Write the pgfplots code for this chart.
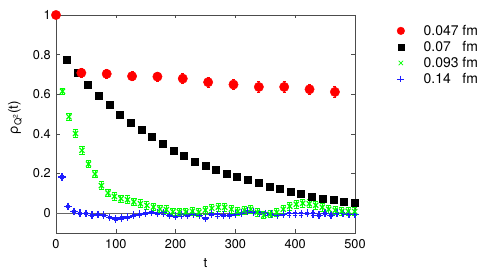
\documentclass[border=0pt]{standalone}
\usepackage{fontspec}
\setmainfont{TeX Gyre Heros}
\usepackage{pgfplots}
\pgfplotsset{compat=1.18}
\usepackage{pgfplotstable}

\pgfplotstableread{
t v e
0 1.0 0.0
42.4 0.708 0.022
84.8 0.703 0.022
127.2 0.691 0.022
169.6 0.689 0.022
212.0 0.679 0.024
254.4 0.661 0.024
296.8 0.649 0.026
339.2 0.637 0.026
381.6 0.637 0.026
424.0 0.625 0.027
466.4 0.612 0.028
}\redtab

\pgfplotstableread{
t v
17.8 0.772
35.6 0.708
53.5 0.647
71.3 0.593
89.1 0.545
107.0 0.497
124.8 0.459
142.6 0.422
160.4 0.385
178.3 0.349
196.1 0.317
214.0 0.290
231.8 0.262
249.6 0.240
267.4 0.218
285.2 0.201
303.0 0.184
321.0 0.168
338.8 0.152
356.6 0.135
374.4 0.124
392.2 0.109
410.0 0.097
428.0 0.085
445.8 0.075
463.6 0.067
481.4 0.058
499.2 0.051
}\blacktab

\pgfplotstableread{
t v e
10.9 0.615 0.014
21.7 0.486 0.018
32.6 0.402 0.019
43.4 0.317 0.019
54.3 0.248 0.019
65.2 0.198 0.019
76.0 0.139 0.019
86.9 0.102 0.019
97.7 0.085 0.019
108.6 0.073 0.019
119.5 0.068 0.019
130.3 0.057 0.019
141.2 0.048 0.019
152.0 0.039 0.019
162.9 0.031 0.019
173.8 0.021 0.019
184.6 0.018 0.019
195.5 0.007 0.019
206.3 0.007 0.019
217.2 0.007 0.019
228.0 0.010 0.019
238.9 0.005 0.019
249.8 0.015 0.019
260.6 0.025 0.019
271.5 0.030 0.019
282.3 0.030 0.019
293.2 0.020 0.019
304.0 0.010 0.019
314.9 0.015 0.019
325.8 0.020 0.019
336.6 0.005 0.019
347.5 -0.010 0.019
358.3 -0.005 0.019
369.2 0.005 0.019
380.0 0.020 0.019
390.9 0.035 0.019
401.8 0.045 0.019
412.6 0.050 0.019
423.5 0.048 0.019
434.3 0.040 0.019
445.2 0.030 0.019
456.0 0.020 0.019
466.9 0.015 0.019
477.8 0.010 0.019
488.6 0.010 0.019
499.5 0.008 0.019
}\greentab

\pgfplotstableread{
t v e
10 0.183 0.006
20 0.034 0.006
30 0.008 0.006
40 0.000 0.006
50 -0.002 0.006
60 -0.010 0.006
70 -0.007 0.006
80 -0.010 0.006
90 -0.022 0.006
100 -0.029 0.006
110 -0.024 0.006
120 -0.020 0.006
130 -0.010 0.006
140 -0.005 0.006
150 0.000 0.006
160 0.003 0.006
170 0.000 0.006
180 0.002 0.006
190 -0.012 0.006
200 -0.015 0.006
210 -0.008 0.006
220 -0.010 0.006
230 -0.005 0.006
240 -0.010 0.006
250 -0.025 0.006
260 -0.005 0.006
270 -0.008 0.006
280 -0.010 0.006
290 -0.012 0.006
300 -0.005 0.006
310 0.000 0.006
320 0.010 0.006
330 0.005 0.006
340 0.002 0.006
350 -0.003 0.006
360 -0.005 0.006
370 -0.010 0.006
380 -0.005 0.006
390 -0.003 0.006
400 -0.003 0.006
410 -0.003 0.006
420 0.000 0.006
430 -0.003 0.006
440 -0.010 0.006
450 0.000 0.006
460 -0.010 0.006
470 0.000 0.006
480 -0.002 0.006
490 -0.005 0.006
500 -0.005 0.006
}\bluetab

\definecolor{mblue}{RGB}{30,30,255}

\begin{document}
\fontsize{12.5}{15}\selectfont
\begin{tikzpicture}
\begin{axis}[
  at={(0,0)}, anchor=south west,
  scale only axis, width=299bp, height=218bp,
  xmin=0, xmax=500, ymin=-0.1, ymax=1,
  xtick={0,100,...,500},
  ytick={0,0.2,0.4,0.6,0.8,1},
  yticklabels={0,0.2,0.4,0.6,0.8,1},
  tick align=inside, major tick length=3.5bp,
  every tick/.style={black!70, line width=0.5pt},
  axis line style={black!70, line width=0.6pt},
  /pgf/number format/assume math mode=true,
  ticklabel style={font=\fontsize{12.8}{15}\selectfont},
  xticklabel style={yshift=-2bp},
  yticklabel style={xshift=-1bp},
  xlabel={t},
  xlabel style={at={(axis description cs:0.5,0)}, anchor=center, yshift=-30bp, font=\fontsize{13.5}{16}\selectfont},
  ylabel={ρ\textsubscript{Q\textsuperscript{2}}(t)},
  ylabel style={at={(axis description cs:-0.137,0.53)}, anchor=center, font=\fontsize{13.5}{16}\selectfont},
  clip=false,
  legend cell align=left,
  legend style={draw=none, fill=none, at={(1.14,0.965)}, anchor=north west,
    font=\fontsize{14}{16}\selectfont, row sep=0bp, inner sep=0pt,
    /tikz/every odd column/.append style={column sep=17bp}},
  legend image code/.code={\draw[#1] plot coordinates {(0.2cm,0cm)};},
]
\addlegendimage{red, mark=*, mark size=3.8bp, only marks, mark options={red}}
\addlegendentry{0.047 fm}
\addlegendimage{black, mark=square*, mark size=2.9bp, only marks}
\addlegendentry{0.07\phantom{3} fm}
\addlegendimage{green, mark=x, mark size=3.1bp, only marks, line width=0.7pt, mark options={green}}
\addlegendentry{0.093 fm}
\addlegendimage{mblue, mark=+, mark size=3.4bp, only marks, line width=0.8pt, mark options={mblue, line width=0.8pt}}
\addlegendentry{0.14\phantom{3} fm}
\addplot[black!60, line width=0.5pt, forget plot] coordinates {(0,0) (500,0)};
\addplot[mblue, line width=1.3pt, mark=+, mark size=3.8bp, only marks, forget plot,
  error bars/.cd, y dir=both, y explicit,
  error bar style={mblue, line width=0.8pt},
  error mark options={mblue, mark size=2.2bp, line width=0.8pt, rotate=90}]
  table[x=t, y=v, y error=e] {\bluetab};
\addplot[green, line width=1.2pt, mark=x, mark size=3.6bp, only marks, forget plot,
  error bars/.cd, y dir=both, y explicit,
  error bar style={green, line width=0.9pt},
  error mark options={green, mark size=2.6bp, line width=0.9pt, rotate=90}]
  table[x=t, y=v, y error=e] {\greentab};
\addplot[black, mark=square*, mark size=3.5bp, only marks, forget plot]
  table[x=t, y=v] {\blacktab};
\addplot[red, mark=*, mark size=4.7bp, only marks, forget plot,
  error bars/.cd, y dir=both, y explicit,
  error bar style={red, line width=0.8pt},
  error mark options={red, mark size=1.5bp, line width=0.8pt, rotate=90}]
  table[x=t, y=v, y error=e] {\redtab};
\end{axis}
\pgfresetboundingbox
\useasboundingbox (-56bp,-37bp) rectangle (428bp,233bp);
\end{tikzpicture}
\end{document}
